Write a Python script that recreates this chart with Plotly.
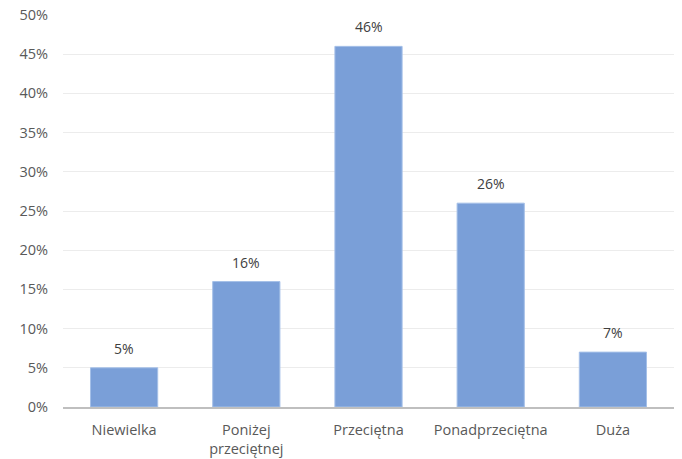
import plotly.graph_objects as go

categories = ["Niewielka", "Poniżej<br>przeciętnej", "Przeciętna", "Ponadprzeciętna", "Duża"]
values = [5, 16, 46, 26, 7]
labels = ["5%", "16%", "46%", "26%", "7%"]
tick_vals = [0, 5, 10, 15, 20, 25, 30, 35, 40, 45, 50]
tick_text = [f"{v}%" for v in tick_vals]

FONT = "Open Sans"

fig = go.Figure(go.Bar(
    x=categories, y=values,
    marker=dict(color="rgb(122,159,216)", line=dict(color="rgb(165,192,232)", width=1)),
    width=0.55,
))
for c, v, t in zip(categories, values, labels):
    fig.add_annotation(x=c, y=v, text=t, showarrow=False, yanchor="bottom", yshift=8,
                       font=dict(family=FONT, size=14, color="#404040"))
fig.update_layout(
    width=682, height=459,
    margin=dict(l=63, r=8, t=15, b=52),
    paper_bgcolor="white", plot_bgcolor="white",
    font=dict(family=FONT, size=14, color="#595959"),
    showlegend=False,
)
fig.update_xaxes(showline=True, linecolor="#bfbfbf", linewidth=2, ticks="", automargin=False,
                 ticklabelstandoff=9, tickfont=dict(size=14.5, color="#595959"))
fig.update_yaxes(range=[0, 50], tickvals=tick_vals, ticktext=tick_text, showgrid=True,
                 gridcolor="#ececec", gridwidth=1, zeroline=False, ticks="", automargin=False,
                 ticklabelstandoff=14, tickfont=dict(size=14.5, color="#595959"))
fig.write_html("out.html")
